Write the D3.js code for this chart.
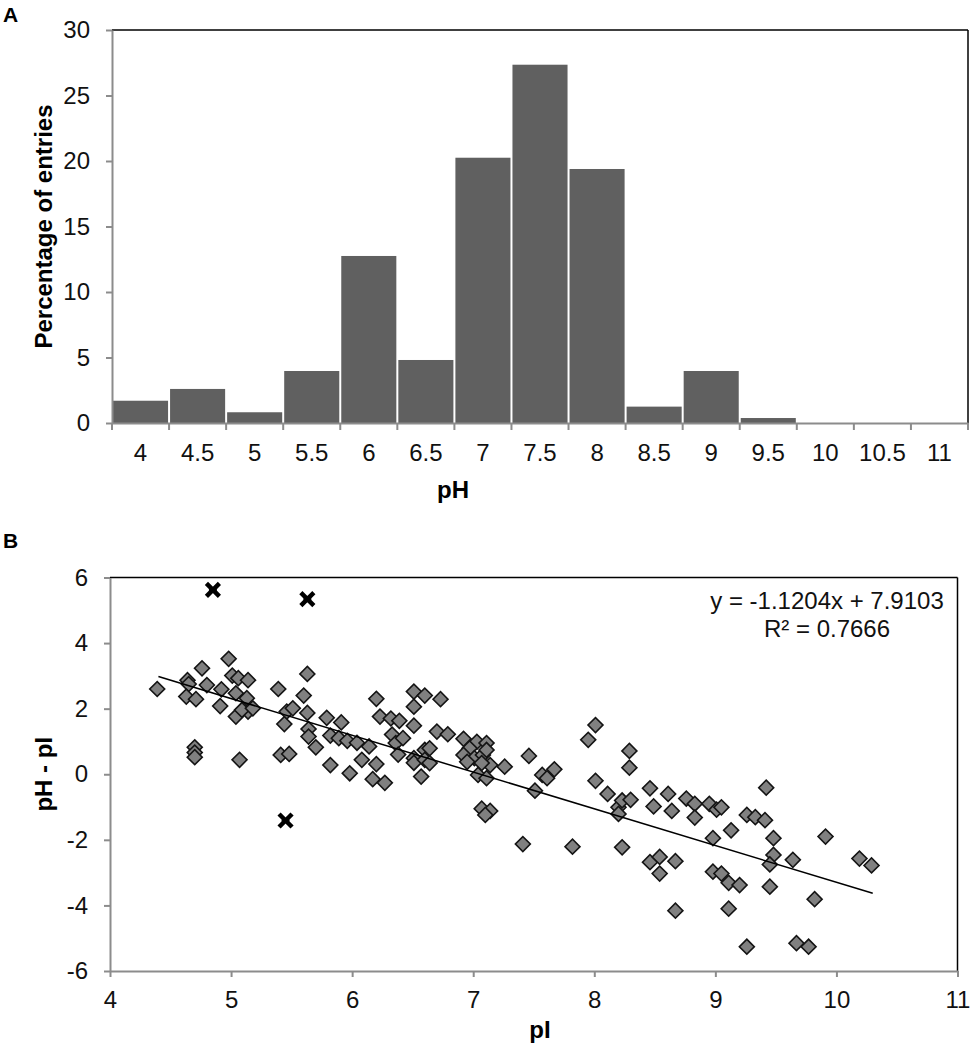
<!DOCTYPE html>
<html>
<head>
<meta charset="utf-8">
<script src="https://cdn.jsdelivr.net/npm/d3@7"></script>
<style>
  html, body { margin: 0; padding: 0; background: #fff; }
  svg { display: block; font-family: "Liberation Sans", Arial, sans-serif; }
</style>
</head>
<body>
<svg id="chart" width="974" height="1050"></svg>
<script>
// ---------- Panel A data ----------
const histCategories = ["4", "4.5", "5", "5.5", "6", "6.5", "7", "7.5", "8", "8.5", "9", "9.5", "10", "10.5", "11"];
const histValues = [1.7, 2.6, 0.82, 3.97, 12.75, 4.81, 20.25, 27.35, 19.39, 1.25, 3.97, 0.38, 0, 0, 0];
const histYTicks = [0, 5, 10, 15, 20, 25, 30];

// ---------- Panel B data ----------
const scatterPI = [
  4.39, 4.64, 4.65, 4.63, 4.71, 4.76, 4.80, 4.92, 4.91, 4.98,
  5.01, 5.06, 5.14, 5.04, 5.13, 5.14, 5.04, 5.09, 5.18, 4.70,
  4.70, 4.70, 5.07, 5.39, 5.46, 5.44, 5.41, 5.48, 5.51, 5.60,
  5.63, 5.63, 5.64, 5.64, 5.70, 5.79, 5.82, 5.91, 5.89, 5.96,
  6.04, 6.14, 5.82, 5.98, 6.08, 6.20, 6.17, 6.27, 6.20, 6.23,
  6.32, 6.39, 6.33, 6.36, 6.42, 6.38, 6.51, 6.60, 6.73, 6.51,
  6.51, 6.70, 6.79, 6.60, 6.64, 6.51, 6.51, 6.60, 6.64, 6.57,
  6.92, 7.03, 7.11, 6.97, 6.92, 7.01, 7.08, 7.11, 7.14, 7.07,
  7.26, 7.04, 7.11, 6.95, 7.07, 7.14, 7.10, 7.46, 7.51, 7.57,
  7.61, 7.67, 7.41, 7.82, 7.95, 8.01, 8.01, 8.11, 8.20, 8.23,
  8.30, 8.20, 8.29, 8.29, 8.23, 8.46, 8.49, 8.61, 8.64, 8.76,
  8.83, 8.83, 8.95, 9.01, 9.05, 9.13, 8.98, 9.26, 9.33, 9.41,
  9.42, 9.48, 9.48, 9.45, 9.64, 9.45, 9.91, 10.19, 10.29, 9.82,
  9.67, 9.77, 9.26, 8.46, 8.54, 8.67, 8.54, 8.98, 9.05, 9.11,
  9.20, 8.67, 9.11
];
const scatterDiff = [
  2.60, 2.87, 2.75, 2.37, 2.29, 3.23, 2.72, 2.59, 2.08, 3.52,
  3.01, 2.93, 2.87, 2.47, 2.32, 1.91, 1.76, 1.96, 2.01, 0.82,
  0.66, 0.52, 0.44, 2.60, 1.91, 1.53, 0.59, 0.62, 2.01, 2.40,
  3.06, 1.87, 1.38, 1.15, 0.82, 1.72, 1.18, 1.58, 1.10, 1.02,
  0.96, 0.85, 0.28, 0.03, 0.44, 0.31, -0.15, -0.26, 2.30, 1.76,
  1.70, 1.63, 1.21, 0.95, 1.10, 0.60, 2.52, 2.40, 2.29, 2.06,
  1.48, 1.30, 1.22, 0.74, 0.79, 0.49, 0.35, 0.44, 0.34, -0.07,
  1.08, 0.99, 0.95, 0.79, 0.59, 0.49, 0.59, 0.74, 0.28, 0.34,
  0.23, -0.02, -0.12, 0.38, -1.05, -1.12, -1.24, 0.56, -0.50, -0.02,
  -0.12, 0.15, -2.13, -2.21, 1.05, 1.50, -0.20, -0.60, -1.01, -0.80,
  -0.78, -1.21, 0.71, 0.20, -2.23, -0.43, -0.98, -0.60, -1.12, -0.74,
  -0.90, -1.32, -0.90, -1.08, -1.01, -1.71, -1.95, -1.24, -1.31, -1.40,
  -0.41, -1.95, -2.46, -2.75, -2.61, -3.43, -1.90, -2.57, -2.78, -3.81,
  -5.15, -5.26, -5.26, -2.68, -2.52, -2.65, -3.03, -2.97, -3.03, -3.31,
  -3.38, -4.16, -4.10
];
const outlierPI = [4.85, 5.63, 5.45];
const outlierDiff = [5.62, 5.34, -1.41];
const trendSlope = -1.1204;
const trendIntercept = 7.9103;
const trendRange = [4.4, 10.3];
const trendLabels = ["y = -1.1204x + 7.9103", "R\u00B2 = 0.7666"];
const scatterXTicks = [4, 5, 6, 7, 8, 9, 10, 11];
const scatterYTicks = [-6, -4, -2, 0, 2, 4, 6];

const svg = d3.select("#chart");
const AXIS_GRAY = "#8c8c8c";
const TICK_FONT = 24;
const TITLE_FONT = 24;

function styleAxis(g) {
  g.selectAll("path.domain").attr("stroke", AXIS_GRAY).attr("stroke-width", 2);
  g.selectAll(".tick line").attr("stroke", AXIS_GRAY).attr("stroke-width", 2);
  g.selectAll(".tick text").attr("fill", "#111").attr("font-size", TICK_FONT)
    .attr("font-family", '"Liberation Sans", Arial, sans-serif');
}
const plain = d => String(d);

// =================== Panel A ===================
const A = { left: 112, right: 968, top: 30, bottom: 423 };
const xA = d3.scaleBand().domain(histCategories).range([A.left, A.right]).padding(0);
const yA = d3.scaleLinear().domain([0, 30]).range([A.bottom, A.top]);

svg.append("g").selectAll("rect").data(histCategories.map((c, i) => ({ c, v: histValues[i] })))
  .join("rect")
  .attr("x", d => xA(d.c) + 1)
  .attr("width", xA.bandwidth() - 2)
  .attr("y", d => yA(d.v))
  .attr("height", d => yA(0) - yA(d.v))
  .attr("fill", "#606060");

svg.append("line").attr("x1", A.left).attr("x2", A.right).attr("y1", A.top).attr("y2", A.top)
  .attr("stroke", "#000").attr("stroke-width", 1.5);
svg.append("line").attr("x1", A.right).attr("x2", A.right).attr("y1", A.top).attr("y2", A.bottom)
  .attr("stroke", "#000").attr("stroke-width", 1.5);

const gAy = svg.append("g").attr("transform", `translate(${A.left},0)`)
  .call(d3.axisLeft(yA).tickValues(histYTicks).tickSize(6).tickSizeOuter(0).tickPadding(16).tickFormat(plain));
styleAxis(gAy);

const gAx = svg.append("g").attr("transform", `translate(0,${A.bottom})`)
  .call(d3.axisBottom(xA).tickSize(0).tickSizeOuter(0).tickPadding(21));
styleAxis(gAx);
const boundaries = histCategories.map(c => xA(c)).concat([xA.range()[1]]);
gAx.append("g").selectAll("line").data(boundaries).join("line")
  .attr("x1", d => d).attr("x2", d => d).attr("y1", 0).attr("y2", 7)
  .attr("stroke", AXIS_GRAY).attr("stroke-width", 2);

svg.append("text").attr("transform", `translate(52,${(A.top + A.bottom) / 2}) rotate(-90)`)
  .attr("text-anchor", "middle").attr("font-weight", "bold").attr("font-size", TITLE_FONT)
  .text("Percentage of entries");
svg.append("text").attr("x", 453).attr("y", 498).attr("text-anchor", "middle")
  .attr("font-weight", "bold").attr("font-size", TITLE_FONT).text("pH");
svg.append("text").attr("x", 3).attr("y", 22).attr("font-weight", "bold").attr("font-size", 21).text("A");

// =================== Panel B ===================
const B = { left: 110, right: 957.5, top: 577.5, bottom: 971 };
const xB = d3.scaleLinear().domain([4, 11]).range([B.left, B.right]);
const yB = d3.scaleLinear().domain([-6, 6]).range([B.bottom, B.top]);

svg.append("line").attr("x1", B.left).attr("x2", B.right).attr("y1", B.top).attr("y2", B.top)
  .attr("stroke", "#000").attr("stroke-width", 1.5);
svg.append("line").attr("x1", B.right).attr("x2", B.right).attr("y1", B.top).attr("y2", B.bottom)
  .attr("stroke", "#000").attr("stroke-width", 1.5);

const gBy = svg.append("g").attr("transform", `translate(${B.left},0)`)
  .call(d3.axisLeft(yB).tickValues(scatterYTicks).tickSize(6).tickSizeOuter(0).tickPadding(16)
    .tickFormat(plain));
styleAxis(gBy);
const gBx = svg.append("g").attr("transform", `translate(0,${B.bottom})`)
  .call(d3.axisBottom(xB).tickValues(scatterXTicks).tickSize(6).tickSizeOuter(0).tickPadding(14)
    .tickFormat(plain));
styleAxis(gBx);

const pts = scatterPI.map((x, i) => ({ x, y: scatterDiff[i] }));
const diamond = d3.symbol(d3.symbolSquare, 112)();
svg.append("g").selectAll("path").data(pts).join("path")
  .attr("d", diamond)
  .attr("transform", d => `translate(${xB(d.x)},${yB(d.y)}) rotate(45)`)
  .attr("fill", "#808080").attr("stroke", "#141414").attr("stroke-width", 1.6);

const trendPts = trendRange.map(x => [xB(x), yB(trendSlope * x + trendIntercept)]);
svg.append("path").attr("d", d3.line()(trendPts)).attr("stroke", "#000")
  .attr("stroke-width", 1.5).attr("fill", "none");

const outs = outlierPI.map((x, i) => ({ x, y: outlierDiff[i] }));
svg.append("g").selectAll("path").data(outs).join("path")
  .attr("d", "M-6.5,-6.5L6.5,6.5M6.5,-6.5L-6.5,6.5M-4,0L4,0")
  .attr("transform", d => `translate(${xB(d.x)},${yB(d.y)})`)
  .attr("stroke", "#000").attr("stroke-width", 4.5).attr("fill", "none");

svg.append("g").selectAll("text").data(trendLabels).join("text")
  .attr("x", 827).attr("y", (d, i) => 609 + i * 28)
  .attr("text-anchor", "middle").attr("font-size", TICK_FONT).attr("fill", "#111")
  .text(d => d);

svg.append("text").attr("transform", `translate(52,${(B.top + B.bottom) / 2}) rotate(-90)`)
  .attr("text-anchor", "middle").attr("font-weight", "bold").attr("font-size", TITLE_FONT)
  .text("pH - pI");
svg.append("text").attr("x", 540).attr("y", 1038).attr("text-anchor", "middle")
  .attr("font-weight", "bold").attr("font-size", TITLE_FONT).text("pI");
svg.append("text").attr("x", 3).attr("y", 548).attr("font-weight", "bold").attr("font-size", 21).text("B");
</script>
</body>
</html>
